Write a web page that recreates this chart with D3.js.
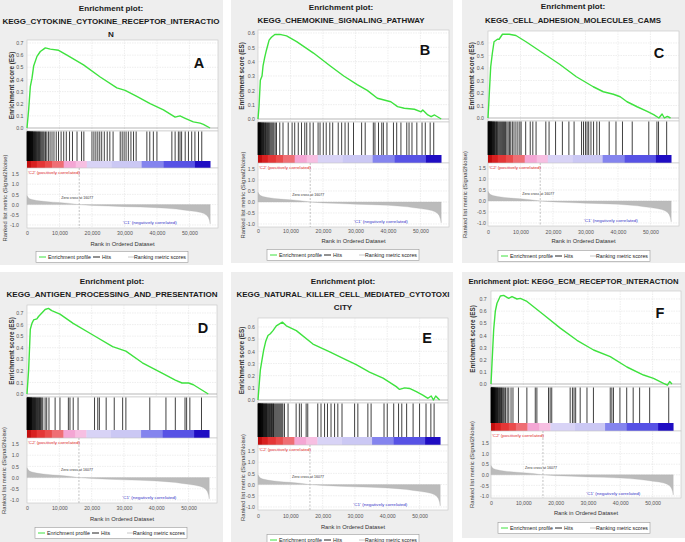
<!DOCTYPE html>
<html><head><meta charset="utf-8">
<script src="https://cdn.jsdelivr.net/npm/d3@7"></script>
<style>
body{margin:0;background:#fff}
svg{display:block}
text{font-family:"Liberation Sans",Arial,Helvetica,sans-serif}
</style>
</head><body>
<svg id="c" width="685" height="542"></svg>
<script>
// ---------------- DATA ----------------
const panelLetters = ["A","B","C","D","E","F"];
const panelTitles = [
  ["Enrichment plot:","KEGG_CYTOKINE_CYTOKINE_RECEPTOR_INTERACTIO","N"],
  ["Enrichment plot:","KEGG_CHEMOKINE_SIGNALING_PATHWAY"],
  ["Enrichment plot:","KEGG_CELL_ADHESION_MOLECULES_CAMS"],
  ["Enrichment plot:","KEGG_ANTIGEN_PROCESSING_AND_PRESENTATION"],
  ["Enrichment plot:","KEGG_NATURAL_KILLER_CELL_MEDIATED_CYTOTOXI","CITY"],
  ["Enrichment plot: KEGG_ECM_RECEPTOR_INTERACTION"]
];
const rankTicks = [0,10000,20000,30000,40000,50000];
const metricTicks = [1.5,1.0,0.5,0.0,-0.5,-1.0];
const esTicks07 = [0.0,0.1,0.2,0.3,0.4,0.5,0.6,0.7];
const esTicks06 = [0.0,0.1,0.2,0.3,0.4,0.5,0.6];
const zeroCross = 16077;
const rankMax = 58800;

// Enrichment score curves [rank, ES]
const esA = [[0,0],[510,0.15],[1020,0.34],[1540,0.41],[2050,0.51],[3070,0.59],[4100,0.63],[5120,0.65],[5640,0.66],[7170,0.65],[9730,0.64],[12300,0.60],[17400,0.52],[22540,0.42],[27660,0.33],[30220,0.31],[33800,0.26],[37900,0.20],[42000,0.15],[45600,0.09],[47100,0.10],[48700,0.08],[51200,0.05],[53300,0.04],[54300,0.03],[56350,0.0]];
const esB = [[0,0],[310,0.086],[720,0.27],[1240,0.30],[1550,0.37],[2070,0.43],[2590,0.48],[3420,0.55],[4140,0.57],[5180,0.59],[6730,0.59],[8800,0.58],[11900,0.54],[17080,0.46],[22260,0.37],[26400,0.30],[30540,0.24],[33640,0.20],[36750,0.145],[40890,0.12],[42960,0.086],[45030,0.075],[48140,0.068],[50200,0.05],[50720,0.063],[52280,0.028],[53300,0.016],[54350,0.028],[56400,0.0]];
const esC = [[0,0],[310,0.15],[830,0.41],[1350,0.52],[1860,0.61],[2900,0.63],[3420,0.63],[3930,0.65],[4450,0.67],[6520,0.67],[8590,0.66],[11700,0.61],[16870,0.52],[22050,0.43],[27200,0.33],[32400,0.25],[35500,0.21],[38600,0.19],[40700,0.17],[42800,0.13],[45900,0.09],[49000,0.053],[51000,0.027],[52600,0.0],[53600,0.032],[54300,0.0],[55200,0.013],[56200,0.0]];
const esD = [[0,0],[510,0.21],[1020,0.56],[1530,0.61],[2040,0.64],[3060,0.65],[3570,0.67],[4590,0.70],[5610,0.73],[6630,0.74],[7650,0.72],[10200,0.69],[14290,0.61],[20400,0.51],[26500,0.41],[30600,0.37],[35700,0.27],[41800,0.18],[45900,0.12],[47960,0.095],[50000,0.095],[51500,0.08],[56100,0.0]];
const esE = [[0,0],[310,0.11],[720,0.245],[1240,0.33],[1750,0.41],[2370,0.48],[3090,0.53],[3810,0.545],[4640,0.57],[5670,0.61],[7530,0.64],[8760,0.61],[11860,0.57],[17000,0.46],[22200,0.395],[27300,0.33],[30400,0.29],[34500,0.23],[38700,0.18],[42800,0.11],[43800,0.087],[45400,0.10],[46900,0.095],[49000,0.068],[51000,0.04],[52600,0.014],[53600,0.033],[54300,0.0],[55000,0.033],[56200,0.0]];
const esF = [[0,0],[310,0.17],[820,0.445],[1340,0.60],[1860,0.665],[2890,0.725],[3920,0.73],[5460,0.705],[6500,0.72],[8040,0.70],[9070,0.705],[11130,0.68],[16290,0.57],[21440,0.46],[26600,0.36],[31750,0.28],[36900,0.225],[42060,0.14],[47200,0.074],[50300,0.047],[53400,0.005],[54600,-0.01],[55300,0.02],[56000,0.0]];

// Hit positions (ranks)
const hitsA = [30,90,150,210,270,330,400,470,540,610,690,770,850,930,1010,1100,1200,1300,1400,1500,1600,1700,1800,1950,2100,2250,2400,2550,2700,2900,3100,3300,3500,3700,3900,4100,4400,4700,5000,5300,5700,6100,6600,7100,7700,8300,9000,9700,10500,11300,12100,13100,14000,15400,16800,17500,20000,20600,21200,21800,22400,23000,23800,24700,25500,26500,28700,29300,29900,30500,31200,32000,32800,33600,36900,37800,38900,40000,44600,45600,46600,47100,47600,48700,49700,50700,51700,52800,53800];
const hitsB = [30,100,180,260,340,420,500,600,700,800,900,1000,1150,1300,1450,1600,1750,1900,2100,2300,2500,2700,2950,3200,3450,3700,4000,4300,4600,4900,5300,5700,6700,7700,9300,10500,11300,12400,13400,14400,15000,16000,17000,18500,19100,20100,21000,22100,23000,24700,25750,26800,27800,29400,31900,33000,35500,36000,37100,38100,38600,39700,41700,42700,44000,45800,46500,47400,48900,50500,51500,53000,54100];
const hitsC = [30,100,170,240,320,400,480,560,650,750,850,950,1050,1150,1250,1400,1550,1700,1850,2000,2200,2400,2600,2800,3000,3300,3600,3900,4200,4500,4800,5100,5400,5800,6200,6600,7000,7500,8000,8600,9200,9800,10200,11600,13000,13800,14800,17800,18800,20800,22900,24900,26500,28800,29400,30000,30500,31000,31700,32500,33500,34300,37300,39400,41400,44400,49500,52000,52500,55000];
const hitsD = [30,90,150,210,270,330,400,470,540,610,680,760,840,920,1000,1100,1200,1300,1400,1500,1650,1800,1950,2100,2250,2400,2550,2700,2900,3100,3300,3500,3700,3900,4100,4300,4600,4900,5600,6100,6800,8700,10200,12800,13300,14300,15800,20900,21900,22400,24500,27000,29600,30600,38000,43000,45900,48900,49400,50400,54000];
const hitsE = [30,90,150,220,290,360,430,500,580,660,740,820,900,1000,1100,1200,1300,1400,1500,1600,1750,1900,2050,2200,2350,2500,2650,2800,3000,3200,3400,3600,3800,4000,4200,4400,4600,4800,5000,5300,5600,5900,6200,6500,6800,7100,7400,7700,8200,9300,11800,12800,13400,14900,15400,18500,19500,20600,21500,22600,23700,24700,26000,29900,30900,34000,35000,39000,40000,42000,43500,44500,46000,48000,50000,52000,53500,54500];
const hitsF = [30,90,150,210,280,350,420,500,580,660,740,830,920,1020,1120,1220,1350,1480,1600,1750,1900,2050,2200,2400,2600,2800,3000,3250,3500,3800,4100,4500,5000,5500,6200,6800,8500,11100,13700,14200,17800,18300,18800,24500,25200,25700,26200,27600,29700,31700,36900,37400,37900,39900,42000,44000,46000,49100,55000];

// Ranked list metric (shared) [rank, value]
const rankedMetric = [[0,0.44],[300,0.36],[800,0.29],[1500,0.25],[3000,0.20],[5000,0.16],[8000,0.12],[10000,0.10],[13000,0.06],[16077,0.0],[20000,-0.04],[25000,-0.07],[30000,-0.10],[35000,-0.12],[40000,-0.15],[43000,-0.18],[46000,-0.22],[48000,-0.26],[50000,-0.30],[52000,-0.34],[53500,-0.39],[54500,-0.44],[55300,-0.52],[55800,-0.62],[56200,-0.78],[56400,-0.95]];

// Colour bar segments [start rank, end rank, colour]
const colorBar = [
  [0,1200,"#c20e0e"],[1200,3000,"#d82020"],[3000,5500,"#e43636"],[5500,7700,"#ea4c4c"],
  [7700,11300,"#ef6e74"],[11300,15000,"#f4a6d4"],[15000,18400,"#f7bfe2"],
  [18400,26000,"#d8d3f6"],[26000,35300,"#cbc8f4"],[35300,42000,"#8484ee"],
  [42000,51700,"#5752e5"],[51700,56400,"#1f0dc3"]
];

const esSeries = [esA,esB,esC,esD,esE,esF];
const hitSeries = [hitsA,hitsB,hitsC,hitsD,hitsE,hitsF];
const esTickSets = [esTicks07,esTicks06,esTicks06,esTicks07,esTicks06,esTicks07];
const legendLabels = ["Enrichment profile","Hits","Ranking metric scores"];

// ---------------- LAYOUT ----------------
const layouts = [
 {bg:[0,0,223,265],tx:111,tY:[8,21.5,34.5],tW:[null,217,null],tFs:8.1,L:27,R:218,esTop:40,esTopV:0.7,esTopY:43,es0Y:128,esBot:131,hitsBot:161,cbBot:168,r15:174,rm1:225,rBot:228,tickY:233.5,axY:243.5,legX:36,legY:257,esOff:3.5,rOff:8,esLabX:12,rLabX:5,letter:[199,63]},
 {bg:[231,0,453,263],tx:341,tY:[7.5,20.5],tW:[null,167],tFs:8.1,L:258,R:449,esTop:30,esTopV:0.6,esTopY:33,es0Y:119,esBot:122,hitsBot:155,cbBot:163,r15:169,rm1:224,rBot:227,tickY:231,axY:241,legX:267,legY:255,esOff:3,rOff:3,esLabX:242,rLabX:243,letter:[425,50]},
 {bg:[462,0,685,263],tx:573,tY:[6.5,20.5],tW:[null,176],tFs:8.1,L:488,R:679,esTop:31,esTopV:0.6,esTopY:43,es0Y:118,esBot:121,hitsBot:155,cbBot:163,r15:168,rm1:223,rBot:226,tickY:232,axY:240.5,legX:498,legY:256,esOff:4,rOff:2,esLabX:472,rLabX:465,letter:[659,53]},
 {bg:[0,272,223,542],tx:112,tY:[281,294],tW:[null,211],tFs:8.1,L:27,R:217,esTop:305,esTopV:0.7,esTopY:313,es0Y:394,esBot:397,hitsBot:430,cbBot:438,r15:444,rm1:500,rBot:503,tickY:508.5,axY:518.5,legX:35,legY:533,esOff:3.5,rOff:8,esLabX:12,rLabX:4,letter:[203,328]},
 {bg:[231,272,453,542],tx:343,tY:[281,294,307.5],tW:[null,213,null],tFs:8.1,L:258,R:448,esTop:318,esTopV:0.6,esTopY:327,es0Y:400,esBot:403,hitsBot:437,cbBot:445,r15:451,rm1:507,rBot:510,tickY:516,axY:527,legX:267,legY:540,esOff:3,rOff:3,esLabX:242,rLabX:243,letter:[427,338]},
 {bg:[462,272,685,538],tx:573.5,tY:[281],tW:[210],tFs:7.4,L:491,R:681,esTop:291,esTopV:0.7,esTopY:299,es0Y:384,esBot:387,hitsBot:423,cbBot:431,r15:443,rm1:496,rBot:498,tickY:503,axY:513,legX:498,legY:528,esOff:4.3,rOff:2,esLabX:473,rLabX:472,letter:[660,313]}
];

const svg = d3.select("#c");
const fmt1 = v => v.toFixed(1);
const fmtRank = d3.format(",");

panelLetters.forEach((letter, i) => {
  const Lo = layouts[i];
  const g = svg.append("g");
  g.append("rect").attr("x",Lo.bg[0]).attr("y",Lo.bg[1])
    .attr("width",Lo.bg[2]-Lo.bg[0]).attr("height",Lo.bg[3]-Lo.bg[1]).attr("fill","#eeeeee");

  panelTitles[i].forEach((t,k) => {
    const tx = g.append("text").attr("x",Lo.tx).attr("y",Lo.tY[k]).attr("dy","0.35em")
      .attr("text-anchor","middle").attr("font-size",Lo.tFs).attr("font-weight","bold").attr("fill","#1a1a1a").text(t);
    if (Lo.tW[k]) tx.attr("textLength",Lo.tW[k]).attr("lengthAdjust","spacingAndGlyphs");
  });

  const x = d3.scaleLinear().domain([0,rankMax]).range([Lo.L,Lo.R]);
  const yES = d3.scaleLinear().domain([0,Lo.esTopV]).range([Lo.es0Y,Lo.esTopY]);
  const yR = d3.scaleLinear().domain([-1,1.5]).range([Lo.rm1,Lo.r15]);
  const W = Lo.R - Lo.L;

  g.append("rect").attr("x",Lo.L).attr("y",Lo.esTop).attr("width",W).attr("height",Lo.esBot-Lo.esTop)
    .attr("fill","#fff").attr("stroke","#c4c4c4").attr("stroke-width",0.6);
  g.selectAll(null).data(esTickSets[i].slice(1)).join("line")
    .attr("x1",Lo.L).attr("x2",Lo.R).attr("y1",d=>yES(d)).attr("y2",d=>yES(d))
    .attr("stroke","#e2e2e2").attr("stroke-width",0.6).attr("stroke-dasharray","1.5,1");
  g.selectAll(null).data(rankTicks.slice(1)).join("line")
    .attr("x1",d=>x(d)).attr("x2",d=>x(d)).attr("y1",Lo.esTop).attr("y2",Lo.esBot)
    .attr("stroke","#e2e2e2").attr("stroke-width",0.6).attr("stroke-dasharray","1.5,1");
  g.append("line").attr("x1",Lo.L).attr("x2",Lo.R).attr("y1",yES(0)).attr("y2",yES(0))
    .attr("stroke","#9a9a9a").attr("stroke-width",0.7);

  const esAx = g.append("g").attr("transform",`translate(${Lo.L},0)`)
    .call(d3.axisLeft(yES).tickValues(esTickSets[i]).tickFormat(fmt1).tickSize(0).tickPadding(Lo.esOff));
  esAx.select(".domain").remove();
  esAx.selectAll("text").attr("font-size",5.2).attr("fill","#555").attr("font-family","Liberation Sans, Arial, sans-serif");

  g.append("path").datum(esSeries[i])
    .attr("d",d3.line().x(d=>x(d[0])).y(d=>yES(d[1])))
    .attr("fill","none").attr("stroke","#3ee23e").attr("stroke-width",1.4).attr("stroke-linejoin","round");

  g.append("text").attr("x",Lo.letter[0]).attr("y",Lo.letter[1]).attr("dy","0.36em")
    .attr("text-anchor","middle").attr("font-size",14.5).attr("font-weight",600)
    .attr("font-family","'Open Sans', Arial, sans-serif").attr("fill","#111").text(letter);

  g.append("text").attr("transform",`translate(${Lo.esLabX},${(Lo.esTop+Lo.esBot)/2}) rotate(-90)`)
    .attr("dy","0.35em").attr("text-anchor","middle").attr("font-size",6.3).attr("font-weight","bold")
    .attr("fill","#333").text("Enrichment score (ES)");

  g.append("rect").attr("x",Lo.L).attr("y",Lo.esBot).attr("width",W).attr("height",Lo.cbBot-Lo.esBot)
    .attr("fill","#fff").attr("stroke","#c4c4c4").attr("stroke-width",0.6);
  g.selectAll(null).data(hitSeries[i]).join("line")
    .attr("x1",d=>x(d)).attr("x2",d=>x(d)).attr("y1",Lo.esBot+0.5).attr("y2",Lo.hitsBot)
    .attr("stroke","#000").attr("stroke-width",0.75);
  g.selectAll(null).data(colorBar).join("rect")
    .attr("x",d=>x(d[0])).attr("width",d=>x(d[1])-x(d[0])+0.3)
    .attr("y",Lo.hitsBot).attr("height",Lo.cbBot-Lo.hitsBot).attr("fill",d=>d[2]);

  g.append("rect").attr("x",Lo.L).attr("y",Lo.cbBot).attr("width",W).attr("height",Lo.rBot-Lo.cbBot)
    .attr("fill","#fff").attr("stroke","#c4c4c4").attr("stroke-width",0.6);
  g.selectAll(null).data(metricTicks).join("line")
    .attr("x1",Lo.L).attr("x2",Lo.R).attr("y1",d=>yR(d)).attr("y2",d=>yR(d))
    .attr("stroke","#e2e2e2").attr("stroke-width",0.6).attr("stroke-dasharray","1.5,1");
  g.selectAll(null).data(rankTicks.slice(1)).join("line")
    .attr("x1",d=>x(d)).attr("x2",d=>x(d)).attr("y1",Lo.cbBot).attr("y2",Lo.rBot)
    .attr("stroke","#e2e2e2").attr("stroke-width",0.6).attr("stroke-dasharray","1.5,1");
  g.append("path").datum(rankedMetric)
    .attr("d",d3.area().x(d=>x(d[0])).y0(yR(0)).y1(d=>yR(d[1])))
    .attr("fill","#bbbbbb").attr("stroke","#b0b0b0").attr("stroke-width",0.3);
  g.append("line").attr("x1",x(zeroCross)).attr("x2",x(zeroCross)).attr("y1",Lo.cbBot).attr("y2",Lo.rBot)
    .attr("stroke","#9a9a9a").attr("stroke-width",0.6).attr("stroke-dasharray","2,1.5");
  g.append("text").attr("x",x(15500)).attr("y",yR(0.36)).attr("dy","0.35em").attr("text-anchor","middle")
    .attr("font-size",4.4).attr("fill","#333").attr("textLength",32).attr("lengthAdjust","spacingAndGlyphs")
    .text("Zero cross at " + zeroCross);
  g.append("text").attr("x",Lo.L+1).attr("y",Lo.cbBot+4.3).attr("dy","0.35em")
    .attr("font-size",4.4).attr("fill","#e02a2a").attr("textLength",52).attr("lengthAdjust","spacingAndGlyphs")
    .text("'C2' (positively correlated)");
  g.append("text").attr("x",x(29500)).attr("y",yR(-0.88)).attr("dy","0.35em")
    .attr("font-size",4.4).attr("fill","#3434c8").attr("textLength",54).attr("lengthAdjust","spacingAndGlyphs")
    .text("'C1' (negatively correlated)");

  const rAx = g.append("g").attr("transform",`translate(${Lo.L},0)`)
    .call(d3.axisLeft(yR).tickValues(metricTicks).tickFormat(fmt1).tickSize(0).tickPadding(Lo.rOff));
  rAx.select(".domain").remove();
  rAx.selectAll("text").attr("font-size",5.2).attr("fill","#555").attr("font-family","Liberation Sans, Arial, sans-serif");

  const xAx = g.append("g").attr("transform",`translate(0,${Lo.tickY})`)
    .call(d3.axisBottom(x).tickValues(rankTicks).tickFormat(fmtRank).tickSize(0).tickPadding(0));
  xAx.select(".domain").remove();
  xAx.selectAll("text").attr("y",0).attr("dy","0.35em").attr("font-size",5.2).attr("fill","#555")
    .attr("font-family","Liberation Sans, Arial, sans-serif");

  g.append("text").attr("x",(Lo.L+Lo.R)/2).attr("y",Lo.axY).attr("dy","0.35em").attr("text-anchor","middle")
    .attr("font-size",5.8).attr("fill","#333").text("Rank in Ordered Dataset");
  g.append("text").attr("transform",`translate(${Lo.rLabX},${(Lo.cbBot+Lo.rBot)/2}) rotate(-90)`)
    .attr("dy","0.35em").attr("text-anchor","middle").attr("font-size",5.9)
    .attr("fill","#444").text("Ranked list metric (Signal2Noise)");

  const lg = g.append("g").attr("transform",`translate(${Lo.legX},${Lo.legY})`);
  lg.append("rect").attr("x",0).attr("y",-5.5).attr("width",152).attr("height",11)
    .attr("fill","#fff").attr("stroke","#9a9a9a").attr("stroke-width",0.6);
  const legItems = [
    {lx:3, color:"#3ee23e", tx:12, tw:43},
    {lx:57, color:"#222", tx:66, tw:9},
    {lx:92, color:"#c8c8c8", tx:98, tw:52}
  ];
  legItems.forEach((it,k) => {
    lg.append("line").attr("x1",it.lx).attr("x2",it.lx+7).attr("y1",0).attr("y2",0)
      .attr("stroke",it.color).attr("stroke-width",1);
    lg.append("text").attr("x",it.tx).attr("y",0).attr("dy","0.35em").attr("font-size",5.4)
      .attr("fill","#222").attr("textLength",it.tw).attr("lengthAdjust","spacingAndGlyphs").text(legendLabels[k]);
  });
});
</script>
</body></html>
